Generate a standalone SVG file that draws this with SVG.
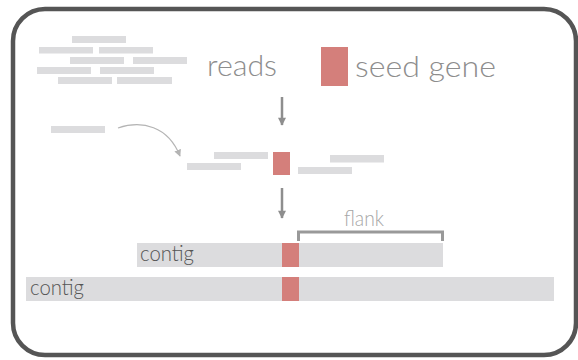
<svg xmlns="http://www.w3.org/2000/svg" width="578" height="360" viewBox="0 0 578 360">
<style>
.read{fill:#dcdcde}
.seed{fill:#d47f7b}
.lbl{font-family:Lato,"Liberation Sans",sans-serif;font-weight:300;fill:#8d8d8d}
.ctg{font-family:Lato,"Liberation Sans",sans-serif;font-weight:300;fill:#555;font-size:21px}
.arr{stroke:#8e8e8e;stroke-width:2.5;fill:none}
</style>
<defs>
<marker id="ah" viewBox="0 0 10 10" refX="9" refY="5" markerWidth="10" markerHeight="8" markerUnits="userSpaceOnUse" orient="auto">
<path d="M0,0 L10,5 L0,10 z" fill="#8e8e8e"/>
</marker>
<marker id="ah2" viewBox="0 0 10 10" refX="9" refY="5" markerWidth="7" markerHeight="7" markerUnits="userSpaceOnUse" orient="auto">
<path d="M0,0 L10,5 L0,10 z" fill="#b4b4b4"/>
</marker>
</defs>
<rect x="13" y="9" width="563" height="346" rx="32" fill="#fff" stroke="#555" stroke-width="4.5"/>
<g id="reads">
<rect class="read" x="72" y="36" width="54" height="7"/>
<rect class="read" x="39" y="47" width="54" height="6.5"/>
<rect class="read" x="99" y="47" width="54" height="6.5"/>
<rect class="read" x="70" y="57" width="54" height="7"/>
<rect class="read" x="133" y="57" width="54" height="7"/>
<rect class="read" x="37" y="67" width="54" height="7"/>
<rect class="read" x="100" y="67" width="54" height="7"/>
<rect class="read" x="58" y="77" width="54" height="7"/>
<rect class="read" x="117" y="77" width="55" height="7"/>
<text class="lbl" x="207" y="76" font-size="30" textLength="70" lengthAdjust="spacingAndGlyphs">reads</text>
</g>
<g id="legend">
<rect class="seed" x="321" y="47" width="27" height="39"/>
<text class="lbl" x="355" y="77" font-size="30" textLength="141" lengthAdjust="spacingAndGlyphs">seed gene</text>
</g>
<g id="assembly">
<rect class="read" x="51" y="126" width="54" height="7"/>
<rect class="read" x="214" y="152" width="54" height="7"/>
<rect class="read" x="187" y="163" width="54" height="7"/>
<rect class="seed" x="273" y="152" width="17" height="23"/>
<rect class="read" x="330" y="155" width="54" height="7.5"/>
<rect class="read" x="298" y="167" width="54" height="7"/>
</g>
<g id="contig1">
<rect class="read" x="137" y="243" width="306" height="24"/>
<rect class="seed" x="282" y="243" width="17" height="24"/>
<text class="ctg" x="140" y="261" textLength="54" lengthAdjust="spacingAndGlyphs">contig</text>
</g>
<g id="contig2">
<rect class="read" x="26" y="277" width="528" height="24"/>
<rect class="seed" x="282" y="277" width="17" height="24"/>
<text class="ctg" x="30" y="295" textLength="54" lengthAdjust="spacingAndGlyphs">contig</text>
</g>
<g id="flank">
<path d="M298.5,241 V232 H442.5 V241" fill="none" stroke="#999" stroke-width="3"/>
<text class="lbl" x="344" y="226" font-size="21" fill="#a6a6a6" style="fill:#a6a6a6" textLength="40" lengthAdjust="spacingAndGlyphs">flank</text>
</g>
<g id="connectors">
<line class="arr" x1="282" y1="97" x2="282" y2="125" marker-end="url(#ah)"/>
<line class="arr" x1="282" y1="188" x2="282" y2="218" marker-end="url(#ah)"/>
<path d="M118,128 C142,120 168,126 180,156" fill="none" stroke="#b4b4b4" stroke-width="1.3" marker-end="url(#ah2)"/>
</g>
</svg>
